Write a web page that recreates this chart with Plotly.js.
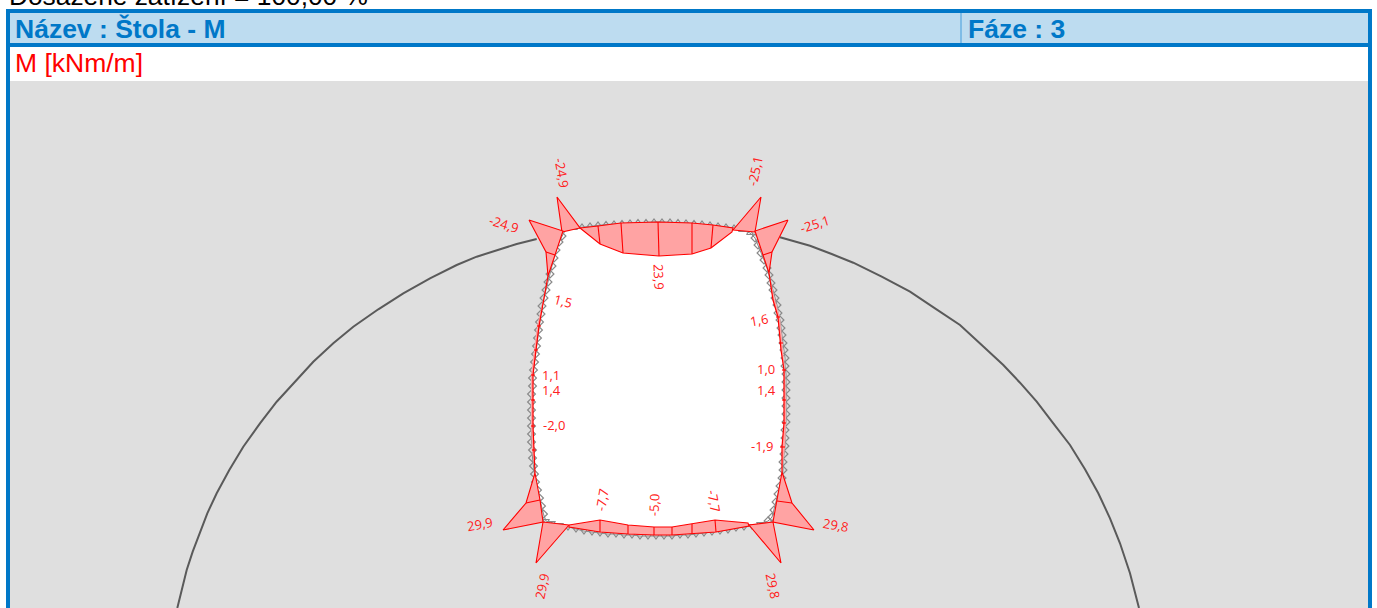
<!DOCTYPE html>
<html><head><meta charset="utf-8">
<script src="https://cdn.plot.ly/plotly-3.0.1.min.js"></script>
<style>html,body{margin:0;padding:0;background:#fff;overflow:hidden}#c{width:1377px;height:608px}</style>
</head><body><div id="c"></div>
<script>
const archLeftX=[177.3,181.7,186.7,192.7,200,207.3,216.7,229.3,243.3,260,276.7,295,313.3,333.3,353.3,378.3,403.3,430,456.7,476.7,496.7,516.7,536.7];
const archLeftY=[608,590,570,551.7,533.3,513.3,493.3,470,446.7,423.3,401.7,381.7,361.7,343.3,326.7,309.3,293.3,278.3,265,256.7,250,244,239];
const archRightX=[780,810,831.7,853.3,881.7,910,935,960,981.7,1003.3,1020,1036.7,1053.3,1070,1085,1098.3,1110,1120,1130,1139];
const archRightY=[237.3,245.7,254,262.7,276.7,291.7,308.3,325,345,365,382.7,401.7,423.3,445,469.3,493.3,518.3,543.3,573.3,608];
const linerTop=[[566,229],[574,228],[582,227],[590,226],[598,225],[606,224.5],[614,224],[622,223.5],[630,223],[638,222.5],[646,222.5],[654,222],[662,222],[670,222],[678,222.5],[686,223],[694,223.5],[702,224],[710,225],[718,226],[726,227],[734,228],[742,230],[750,233]];
const linerRight=[[755,238],[758,245],[761,253],[764,260],[767,268],[769,275],[771,283],[773,290],[775,298],[777,305],[778,313],[780,320],[781,328],[782,335],[783,343],[784,350],[785,358],[785,366],[786,374],[786,382],[786,390],[786,398],[786,406],[786,414],[786,422],[785,430],[785,438],[785,446],[784,454],[783,462],[783,470],[782,478],[780,486],[778,494],[776,502],[774,510],[772,517],[768,521]];
const linerBottom=[[760,524],[752,526],[744,527],[736,528],[728,530],[720,531],[712,532],[704,533],[696,534],[688,535],[680,535],[672,536],[664,536],[656,536],[648,536],[640,536],[632,535],[624,535],[616,534],[608,534],[600,533],[592,532],[584,531],[576,529],[568,527],[560,525],[552,523],[546,521]];
const linerLeft=[[543.5,514],[541.5,506],[539.5,498],[537.5,490],[535.5,482],[534.5,474],[533.5,466],[532.5,458],[532.5,450],[531.5,442],[531.5,434],[531.5,426],[531.5,418],[531.5,410],[531.5,402],[531.5,394],[532.5,386],[532.5,378],[533.5,370],[534.5,362],[535.5,354],[536.5,346],[537.5,338],[538.5,330],[539.5,322],[541,314],[542,306],[544,298],[546,290],[548,282],[550,274],[552,266],[554,258],[556,250],[559,242],[562,236]];
const topDiagram=[[580,228],[600,244],[623,253],[659,256],[692,254],[711,248],[732,232],[733,228],[713,225],[692,223],[658,222],[621,223],[598,226],[580,228]];
const bottomDiagram=[[569,525],[600,520],[628,525],[654,527],[672,527],[692,524],[715,520],[748,523],[749,526],[716,532],[692,534],[672,535],[654,535],[628,534],[600,532],[569,527],[569,525]];
const leftWallRed=[[548,276],[544,300],[539,326],[536,350],[533,375],[533,400],[533,426],[534,450],[535,473]];
const leftWallBase=[[548,276],[543,300],[537,326],[534,350],[531,375],[531,400],[531,426],[532,450],[535,473]];
const rightWallRed=[[769,273],[773,300],[778,317],[781,350],[784,370],[784,400],[784,423],[782,447],[782,472]];
const rightWallBase=[[769,273],[775,300],[780,317],[783,350],[785,370],[786,400],[786,423],[785,447],[782,472]];
const cornerTL1=[[557,197],[580,228],[562,232],[557,197]];
const cornerTL2=[[529,220],[563,231],[555,255],[548,276],[546,252],[529,220]];
const cornerTR1=[[761,197],[755,232],[733,230],[761,197]];
const cornerTR2=[[788,220],[755,231],[763,255],[769,273],[772,252],[788,220]];
const cornerBL1=[[503,530],[526,503],[535,473],[540,500],[543,522],[503,530]];
const cornerBL2=[[536,563],[543,522],[569,525],[536,563]];
const cornerBR1=[[814,530],[792,503],[782,472],[777,501],[773,522],[814,530]];
const cornerBR2=[[781,563],[773,522],[749,525],[781,563]];
const ordinates=[
[[600,244],[598,226]],[[623,253],[621,223]],[[659,256],[658,222]],[[692,254],[692,223]],[[711,248],[713,225]],
[[600,520],[600,532]],[[628,525],[628,534]],[[654,527],[654,535]],[[672,527],[672,535]],[[692,524],[692,534]],[[715,520],[716,532]],
[[546,252],[555,255]],[[772,252],[763,255]],[[526,503],[540,500]],[[792,503],[777,501]],
[[537,326],[541,326]],[[534,350],[538,350]],[[531,375],[535,375]],[[531,400],[535,400]],[[531,426],[535,426]],[[532,450],[536,450]],
[[776,317],[780,317]],[[779,343],[783,343]],[[782,370],[786,370]],[[782,400],[786,400]],[[782,423],[786,423]],[[780,447],[785,447]]];
const valueLabels=["-24,9","-24,9","-25,1","-25,1","23,9","1,5","1,6","1,1","1,4","-2,0","1,0","1,4","-1,9","-7,7","-5,0","-7,7","29,9","29,9","29,8","29,8"];
const labelX=[562,504,755,815,659,563,759,551,551,554,766,766,762,602,654,714,480,542,836,773];
const labelY=[173,224,171,224,277,301,320,375,390,425,369,390,446,500,505,501,524,586,525,586];
const labelAngle=[80,17,-78,-17,88,15,-10,0,0,0,0,0,0,-80,-88,80,-10,-78,10,78];
const PINK='#ffa3a3',RED='#ff0000',BLUE='#0078c8',GREY='#8a8a8a';
const xs=p=>p.map(q=>q[0]),ys=p=>p.map(q=>q[1]);
const linerPts=linerTop.concat(linerRight,linerBottom,linerLeft);
const linerSym=linerTop.map(()=>'triangle-up-open').concat(linerRight.map(()=>'diamond-open'),linerBottom.map(()=>'triangle-down-open'),linerLeft.map(()=>'diamond-open'));
const traces=[];
traces.push({x:archLeftX,y:archLeftY,mode:'lines',line:{color:'#5a5a5a',width:2},hoverinfo:'skip'});
traces.push({x:archRightX,y:archRightY,mode:'lines',line:{color:'#5a5a5a',width:2},hoverinfo:'skip'});
traces.push({x:xs(linerPts).concat(linerPts[0][0]),y:ys(linerPts).concat(linerPts[0][1]),mode:'lines',fill:'toself',fillcolor:'#ffffff',line:{color:GREY,width:1},hoverinfo:'skip'});
traces.push({x:xs(linerPts),y:ys(linerPts),mode:'markers',marker:{symbol:linerSym,size:6,color:GREY,line:{color:GREY,width:1.2}},hoverinfo:'skip'});
[[leftWallRed,leftWallBase],[rightWallRed,rightWallBase]].forEach(([r,b])=>{
  const p=r.concat(b.slice().reverse());
  traces.push({x:xs(p),y:ys(p),mode:'none',fill:'toself',fillcolor:PINK,hoverinfo:'skip'});
  traces.push({x:xs(r),y:ys(r),mode:'lines',line:{color:RED,width:1.2},hoverinfo:'skip'});
});
[topDiagram,bottomDiagram,cornerTL1,cornerTL2,cornerTR1,cornerTR2,cornerBL1,cornerBL2,cornerBR1,cornerBR2].forEach(p=>traces.push({x:xs(p),y:ys(p),mode:'lines',fill:'toself',fillcolor:PINK,line:{color:RED,width:1.1},hoverinfo:'skip'}));
ordinates.forEach(p=>traces.push({x:xs(p),y:ys(p),mode:'lines',line:{color:RED,width:1.1},hoverinfo:'skip'}));
const rect=(x0,y0,x1,y1,c)=>({type:'rect',xref:'x',yref:'y',x0,y0,x1,y1,fillcolor:c,line:{width:0},layer:'below'});
const shapes=[rect(6,9,1372,608,BLUE),rect(10,13,1368,43,'#bddcf0'),rect(10,47,1368,81,'#ffffff'),rect(10,81,1368,608,'#dfdfdf'),rect(960,13,962,43,'#7fbce6')];
const ann=(text,x,y,font,extra)=>Object.assign({text,x,y,xref:'x',yref:'y',showarrow:false,xanchor:'left',yanchor:'middle',font},extra||{});
const annotations=[
ann('Dosažené zatížení = 100,00 %',7,13,{family:'Liberation Sans',size:26.3,color:'#000'},{yanchor:'bottom'}),
ann('<b>Název : Štola - M</b>',13,29,{family:'Liberation Sans',size:26.5,color:BLUE}),
ann('<b>Fáze : 3</b>',966,29,{family:'Liberation Sans',size:26.5,color:BLUE}),
ann('M [kNm/m]',13,63,{family:'Liberation Sans',size:26.5,color:RED})];
valueLabels.forEach((t,i)=>annotations.push(ann(t,labelX[i],labelY[i],{family:'Open Sans',size:13,color:'#ff2020'},{xanchor:'center',textangle:labelAngle[i]})));
Plotly.newPlot('c',traces,{width:1377,height:608,margin:{l:0,r:0,t:0,b:0},showlegend:false,paper_bgcolor:'#fff',plot_bgcolor:'#fff',
xaxis:{range:[0,1377],visible:false,fixedrange:true},yaxis:{range:[608,0],visible:false,fixedrange:true},shapes,annotations},{displayModeBar:false,staticPlot:true});
</script></body></html>
